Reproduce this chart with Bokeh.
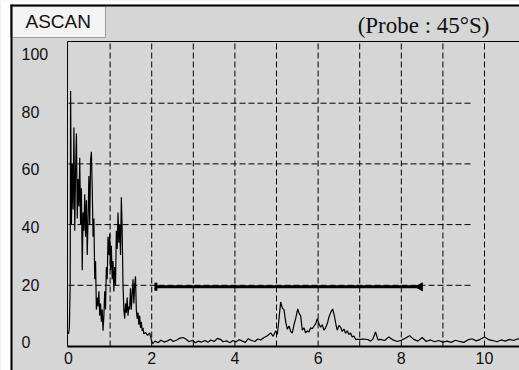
from math import pi
from bokeh.plotting import figure
from bokeh.models import Range1d
from bokeh.core.properties import value
from bokeh.embed import file_html
from bokeh.resources import INLINE

# ---------------- data ----------------
sig_x = [0.00, 0.02, 0.04, 0.05, 0.07, 0.09, 0.11, 0.13, 0.15, 0.17, 0.19, 0.21, 0.23, 0.25,
         0.27, 0.29, 0.31, 0.33, 0.35, 0.37, 0.39, 0.41, 0.43, 0.45, 0.47, 0.49, 0.51, 0.53,
         0.55, 0.57, 0.59, 0.61, 0.63, 0.65, 0.67, 0.69, 0.71, 0.73, 0.75, 0.77, 0.79, 0.81,
         0.83, 0.85, 0.87, 0.89, 0.91, 0.93, 0.95, 0.97, 0.99, 1.01, 1.03, 1.05, 1.07, 1.09,
         1.11, 1.13, 1.15, 1.17, 1.19, 1.21, 1.23, 1.25, 1.27, 1.29, 1.31, 1.33, 1.35, 1.37,
         1.39, 1.41, 1.43, 1.45, 1.47, 1.49, 1.51, 1.53, 1.55, 1.57, 1.59, 1.61, 1.63, 1.65,
         1.67, 1.69, 1.71, 1.73, 1.75, 1.77, 1.79, 1.81, 1.85, 1.90, 1.95, 2.00,
         2.02, 2.08, 2.15, 2.22, 2.30, 2.38, 2.45, 2.52, 2.60, 2.68, 2.75, 2.82, 2.90, 2.98,
         3.05, 3.12, 3.20, 3.28, 3.35, 3.42, 3.50, 3.58, 3.65, 3.72, 3.80, 3.88, 3.95, 4.02,
         4.10, 4.18, 4.25, 4.32, 4.40, 4.48, 4.55, 4.62, 4.70, 4.78,
         4.86, 4.92, 4.98, 5.02, 5.06, 5.10, 5.14, 5.18, 5.22, 5.26, 5.30, 5.34, 5.38, 5.42,
         5.46, 5.51, 5.55, 5.58, 5.62, 5.66, 5.70, 5.74, 5.78, 5.82, 5.86, 5.90, 5.94, 5.98,
         6.02, 6.06, 6.10, 6.14, 6.18, 6.22, 6.26, 6.30, 6.35, 6.39, 6.43, 6.46, 6.50, 6.54,
         6.58, 6.62, 6.66, 6.70, 6.74, 6.78, 6.82, 6.86, 6.90, 6.95,
         7.00, 7.10, 7.20, 7.26, 7.32, 7.38, 7.44, 7.50, 7.60, 7.70, 7.80, 7.90, 8.00, 8.10,
         8.20, 8.30, 8.40, 8.50, 8.60, 8.70, 8.80, 8.90, 9.00, 9.10, 9.20, 9.30, 9.40, 9.50,
         9.60, 9.70, 9.80, 9.90, 10.00, 10.10, 10.20, 10.30, 10.40, 10.50, 10.60, 10.70,
         10.80, 10.85]
sig_y = [4, 6, 20, 84, 40, 60, 45, 72, 38, 58, 70, 42, 55, 46,
         62, 40, 52, 25, 44, 38, 50, 36, 48, 30, 42, 56, 40, 61,
         64, 52, 36, 42, 22, 28, 12, 16, 13, 18, 10, 14, 8, 12,
         5, 10, 18, 12, 26, 22, 36, 30, 37, 25, 33, 22, 28, 18,
         26, 20, 38, 32, 44, 34, 40, 30, 49, 38, 20, 12, 9, 14,
         11, 16, 10, 13, 12, 19, 12, 17, 22, 14, 20, 23, 12, 9,
         11, 7, 10, 6, 8, 5, 6, 4, 4.5, 3.5, 4.3, 1.5,
         0.8, 1.6, 1.1, 1.9, 1.3, 1.7, 2.2, 1.5, 2.0, 2.6, 2.8, 2.3, 1.4, 1.9,
         1.1, 1.6, 1.3, 1.8, 1.2, 2.0, 1.5, 2.5, 2.2, 1.4, 1.7, 1.1, 1.8, 1.3,
         2.1, 1.6, 1.2, 2.4, 1.8, 1.5, 2.3, 2.0, 2.8, 3.4,
         4.3, 3.2, 5.0, 3.8, 9.0, 14.5, 12.5, 12.0, 8.0, 5.5, 6.6, 4.8, 4.3, 7.0,
         9.0, 12.2, 10.5, 10.0, 5.2, 6.0, 4.3, 5.0, 4.6, 6.0, 5.7, 6.5, 7.3, 9.0,
         7.3, 6.2, 7.0, 5.2, 6.0, 7.3, 9.5, 11.0, 12.2, 10.0, 7.0, 5.2, 6.8, 6.2,
         4.8, 5.6, 4.2, 5.0, 3.8, 4.3, 3.0, 3.3, 2.2, 2.2,
         2.2, 2.3, 2.1, 1.6, 2.4, 4.6, 2.0, 2.2, 1.8, 3.0, 2.0, 1.5, 1.9, 2.6,
         3.4, 2.2, 1.6, 2.8, 1.5, 2.0, 1.4, 1.8, 1.3, 1.6, 1.2, 1.9, 1.5, 1.2,
         2.0, 2.4, 1.7, 2.2, 3.0, 2.1, 1.8, 1.4, 2.0, 1.6, 2.2, 1.8,
         2.4, 2.0]

x_ticks = [0, 2, 4, 6, 8, 10]
y_ticks = [0, 20, 40, 60, 80, 100]
grid_x = [1, 2, 3, 4, 5, 6, 7, 8, 9, 10]
grid_y = [20, 40, 60, 80]
grid_y_end = 9.72
gate_start = 2.1
gate_end = 8.45
gate_level = 19.5
title_left = "ASCAN"
title_right = "(Probe : 45\u00b0S)"

# ---------------- layout constants (data units of the full canvas) ----------------
BG = "#d6d6d6"
INK = "#111111"
SANS = "Liberation Sans"
SERIF = "Liberation Serif"
FX0, FX1 = -0.024, 10.841      # plot-frame left / right edge
FY0, FY1 = -0.165, 100.33      # plot-frame bottom / top edge
CX0, CY0, CY1 = -1.635, -8.07, 113.84   # canvas edges

p = figure(width=519, height=370, output_backend="svg", toolbar_location=None,
           x_range=Range1d(CX0, FX1), y_range=Range1d(CY0, CY1),
           min_border=0, min_border_left=0, min_border_right=0,
           min_border_top=0, min_border_bottom=0,
           background_fill_color=BG, border_fill_color=BG, outline_line_color=None,
           x_axis_type=None, y_axis_type=None)
p.grid.visible = False

# white margin and thick outer frame, header box
p.quad(left=[CX0, CX0], right=[-1.394, FX1 + 1], bottom=[CY0 - 1, 112.52], top=[CY1 + 1, CY1 + 1],
       fill_color="white", line_color=None)
p.quad(left=[-1.394], right=[0.889], bottom=[101.65], top=[112.0],
       fill_color="#f3f3f3", line_color="#9a9a9a", line_width=1)
p.quad(left=[-1.394, -1.394], right=[-1.346, FX1 + 1], bottom=[CY0 - 1, 111.86],
       top=[112.52, 112.52], fill_color="black", line_color=None)

# vertical dashed grid
p.segment(x0=grid_x, y0=[FY0] * len(grid_x), x1=grid_x, y1=[FY1] * len(grid_x),
          line_color="black", line_dash="6 3", line_width=1)
# horizontal dashed grid (stops short of the right edge)
p.segment(x0=[0] * len(grid_y), y0=grid_y, x1=[grid_y_end] * len(grid_y), y1=grid_y,
          line_color="black", line_dash="6 3", line_width=1)

# plot frame: left and top thin lines, bottom thick axis line
p.segment(x0=[FX0, FX0], y0=[FY0, FY1], x1=[FX0, FX1 + 1], y1=[FY1, FY1],
          line_color="black", line_width=1)
p.segment(x0=[FX0], y0=[FY0], x1=[FX1 + 1], y1=[FY0], line_color="black", line_width=2)

# signal
p.line(sig_x, sig_y, line_color="black", line_width=1.2)

# gate bar
p.segment(x0=[gate_start], y0=[gate_level], x1=[gate_end], y1=[gate_level],
          line_color="black", line_width=3)
p.scatter(x=[gate_start], y=[gate_level], marker="dash", angle=pi / 2, size=8,
          line_color="black", line_width=3)
p.scatter(x=[gate_end], y=[gate_level], marker="triangle", angle=pi / 2, size=8,
          fill_color="black", line_color="black")

# tick labels
p.text(x=x_ticks, y=[-3.95] * len(x_ticks), text=[str(v) for v in x_ticks],
       text_align="center", text_baseline="middle", text_font=value(SANS),
       text_font_size=value("16px"), text_color=INK)
lab_y = [1.2 + v * 0.95 for v in y_ticks]   # original places labels on a slightly compressed pitch
p.text(x=[-1.13] * len(y_ticks), y=lab_y, text=[str(v) for v in y_ticks],
       text_align="left", text_baseline="middle", text_font=value(SANS),
       text_font_size=value("16px"), text_color=INK)

# header texts
p.text(x=[-1.034], y=[106.9], text=[title_left], text_align="left", text_baseline="middle",
       text_font=value(SANS), text_font_size=value("19px"), text_color=INK)
p.text(x=[6.95], y=[105.6], text=[title_right], text_align="left", text_baseline="middle",
       text_font=value(SERIF), text_font_size=value("23px"), text_color=INK)

open("out.html", "w").write(file_html(p, INLINE))
